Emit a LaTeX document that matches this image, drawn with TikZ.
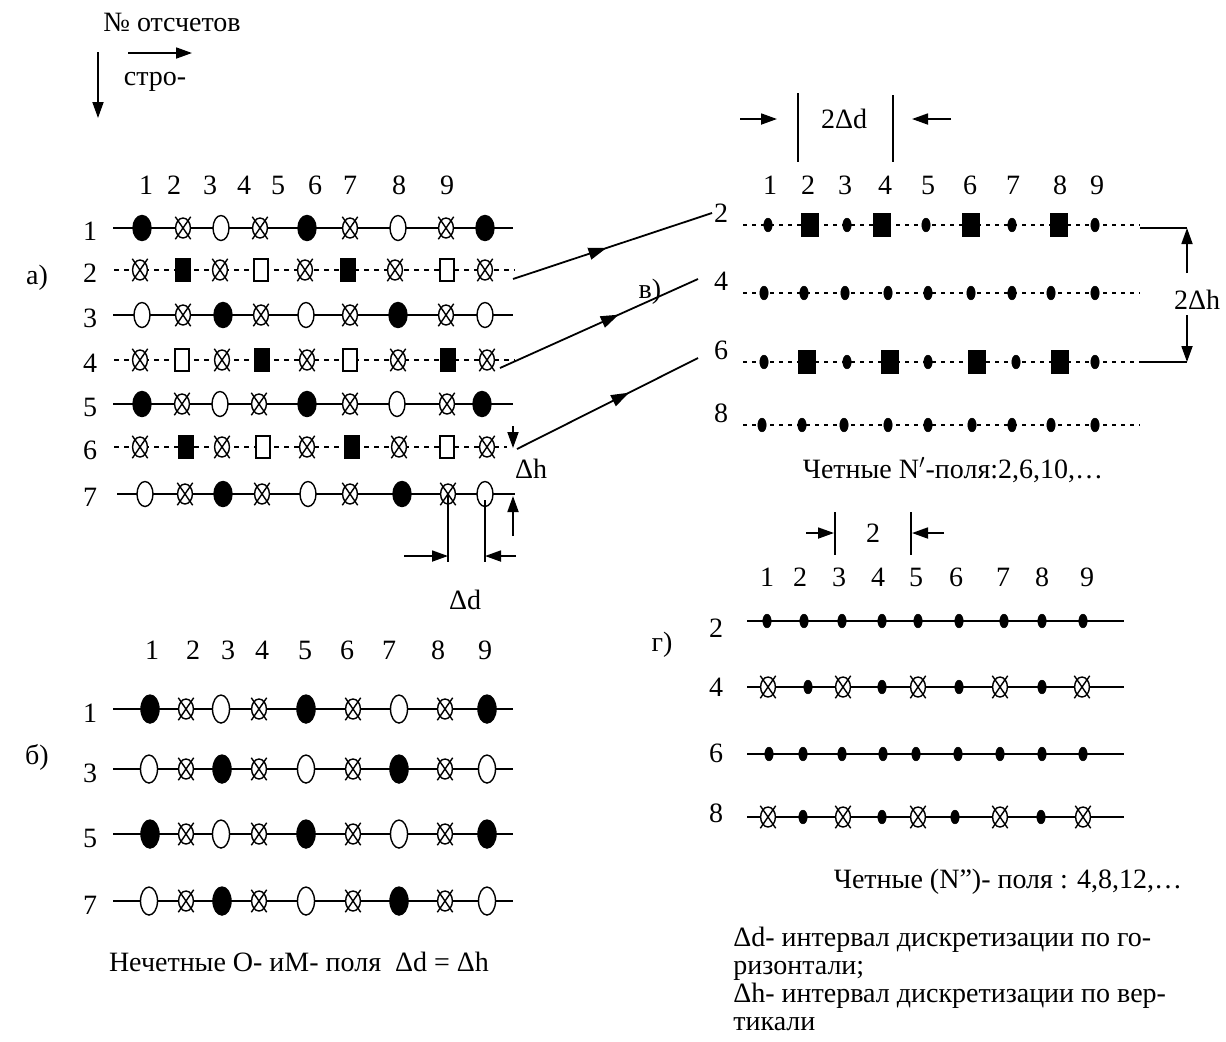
\documentclass[tikz,border=0pt]{standalone}
\usepackage{fontspec}
\setmainfont{Liberation Serif}
\usetikzlibrary{shapes.geometric,arrows.meta,decorations.markings}
\newcommand\fs{\fontsize{14}{16}\selectfont}
\newcommand\symrow[4]{%
  \foreach \s [count=\c] in {#4} {%
    \pgfmathsetmacro\px{{#3}[\c-1]}%
    \node[\s] (#1-\c) at (\px,#2) {};
  }}
\tikzset{
  sym/.style={draw, line width=0.7pt, inner sep=0pt, outer sep=0pt},
  xcross/.style={append after command={
      ([shift={(-#1*0.52,#1*0.76)}]\tikzlastnode.center) edge[line width=0.7pt] ([shift={(#1*0.52,-#1*0.76)}]\tikzlastnode.center)
      ([shift={(-#1*0.52,-#1*0.76)}]\tikzlastnode.center) edge[line width=0.7pt] ([shift={(#1*0.52,#1*0.76)}]\tikzlastnode.center)}},
  fe/.style={sym, ellipse, fill=black, minimum width=9pt, minimum height=12.5pt},
  oe/.style={sym, ellipse, fill=white, minimum width=8pt, minimum height=12.5pt},
  fb/.style={sym, ellipse, fill=black, minimum width=9pt, minimum height=14pt},
  ob/.style={sym, ellipse, fill=white, minimum width=8.5pt, minimum height=14pt},
  xe/.style={sym, ellipse, fill=white, minimum width=7.4pt, minimum height=10pt, xcross=7.4pt},
  fs/.style={sym, rectangle, fill=black, minimum width=7.5pt, minimum height=11pt},
  os/.style={sym, rectangle, fill=white, minimum width=7pt, minimum height=11pt},
  bs/.style={sym, rectangle, fill=black, minimum width=8.5pt, minimum height=11pt},
  dt/.style={sym, ellipse, fill=black, line width=0.3pt, minimum width=4.2pt, minimum height=6.8pt},
  lbl/.style={font=\fs, inner sep=0pt},
  solidrow/.style={line width=0.9pt},
  dashrow/.style={line width=0.9pt, dash pattern=on 2.5pt off 2.5pt},
  dotrow/.style={line width=0.8pt, dash pattern=on 2pt off 2.5pt},
  arr/.style={line width=0.9pt, -{Triangle[length=8pt,width=5.5pt]}},
  midarr/.style={line width=0.9pt, postaction={decorate}, decoration={markings, mark=at position #1 with {\arrow{Triangle[length=9pt,width=6pt]}}}},
  dim/.style={line width=0.8pt}
}
\begin{document}
\begin{tikzpicture}[x=0.5pt,y=-0.5pt]
\useasboundingbox (0,0) rectangle (1226,1041);

% top-left legend
\node[lbl] (numtxt) at (172,22) {№ отсчетов};
\node[lbl] (strtxt) at (155,82) {стро-};
\coordinate (hA) at (128,53); \coordinate (hB) at (192,53);
\coordinate (vA) at (98,52); \coordinate (vB) at (98,118);
\draw[arr] (hA) -- (hB);
\draw[arr] (vA) -- (vB);

% ---------- a) ----------
\node[lbl] (la) at (37,278) {а)};
\foreach \x [count=\c] in {146,174,210,244,278,315,350,399,447}
  \node[lbl] (ah\c) at (\x,185) {\c};
\foreach \r/\y/\lx/\rx/\st in {1/228/113/513/solidrow, 2/270/114/515/dashrow, 3/315/113/513/solidrow,
    4/360/114/515/dashrow, 5/404/113/513/solidrow, 6/447/114/507/dashrow, 7/494/117/515/solidrow} {
  \coordinate (aL\r) at (\lx,\y); \coordinate (aR\r) at (\rx,\y);
  \draw[\st] (aL\r) -- (aR\r);
  \node[lbl] (ar\r) at (90,\y+3) {\r};
}
\symrow{a1}{228}{142,183,221,260,307,350,398,446,485}{fe,xe,oe,xe,fe,xe,oe,xe,fe}
\symrow{a2}{270}{140,183,220,261,305,348,395,447,485}{xe,fs,xe,os,xe,fs,xe,os,xe}
\symrow{a3}{315}{142,183,223,261,306,350,398,446,485}{oe,xe,fe,xe,oe,xe,fe,xe,oe}
\symrow{a4}{360}{140,182,222,262,307,350,398,448,487}{xe,os,xe,fs,xe,os,xe,fs,xe}
\symrow{a5}{404}{142,182,220,259,307,350,397,447,482}{fe,xe,oe,xe,fe,xe,oe,xe,fe}
\symrow{a6}{447}{140,186,222,263,307,352,399,447,487}{xe,fs,xe,os,xe,fs,xe,os,xe}
\symrow{a7}{494}{145,185,223,262,308,350,402,448,485}{oe,xe,fe,xe,oe,xe,fe,xe,oe}

% delta h
\coordinate (dh1) at (513,426); \coordinate (dh2) at (513,448);
\coordinate (dh3) at (513,536); \coordinate (dh4) at (513,496);
\draw[arr] (dh1) -- (dh2);
\draw[arr] (dh3) -- (dh4);
\node[lbl] (dhtxt) at (531,469) {Δh};
% delta d
\coordinate (dd1) at (448,494); \coordinate (dd2) at (448,562);
\coordinate (dd3) at (485,500); \coordinate (dd4) at (485,562);
\draw[dim] (dd1) -- (dd2);
\draw[dim] (dd3) -- (dd4);
\coordinate (dd5) at (404,556); \coordinate (dd6) at (448,556);
\coordinate (dd7) at (516,556); \coordinate (dd8) at (485,556);
\draw[arr] (dd5) -- (dd6);
\draw[arr] (dd7) -- (dd8);
\node[lbl] (ddtxt) at (465,600) {Δd};

% ---------- b) ----------
\node[lbl] (lb) at (37,757) {б)};
\foreach \x [count=\c] in {152,193,228,262,305,347,389,438,485}
  \node[lbl] (bh\c) at (\x,650) {\c};
\foreach \r/\y in {1/709, 3/769, 5/834, 7/901} {
  \coordinate (bL\r) at (113,\y); \coordinate (bR\r) at (513,\y);
  \draw[solidrow] (bL\r) -- (bR\r);
  \node[lbl] (br\r) at (90,\y+4) {\r};
}
\symrow{b1}{709}{150,186,221,259,306,353,399,445,487}{fb,xe,ob,xe,fb,xe,ob,xe,fb}
\symrow{b3}{769}{149,186,222,259,306,353,399,445,487}{ob,xe,fb,xe,ob,xe,fb,xe,ob}
\symrow{b5}{834}{150,186,221,259,306,353,399,445,487}{fb,xe,ob,xe,fb,xe,ob,xe,fb}
\symrow{b7}{901}{149,186,222,259,306,353,399,445,487}{ob,xe,fb,xe,ob,xe,fb,xe,ob}
\node[lbl] (btxt) at (299,962) {Нечетные О- иМ- поля \ Δd = Δh};

% ---------- v) ----------
\node[lbl] (lv) at (650,292) {в)};
\foreach \x [count=\c] in {770,808,845,885,928,970,1013,1060,1097}
  \node[lbl] (vh\c) at (\x,185) {\c};
\foreach \r/\y in {2/225, 4/293, 6/362, 8/425} {
  \coordinate (vL\r) at (743,\y); \coordinate (vR\r) at (1140,\y);
  \draw[dotrow] (vL\r) -- (vR\r);
  \node[lbl] (vr\r) at (721,\y-12) {\r};
}
\symrow{v2}{225}{768,810,847,882,926,971,1012,1059,1095}{dt,bs,dt,bs,dt,bs,dt,bs,dt}
\symrow{v4}{293}{764,804,845,888,928,971,1012,1051,1095}{dt,dt,dt,dt,dt,dt,dt,dt,dt}
\symrow{v6}{362}{764,807,847,890,928,977,1016,1060,1095}{dt,bs,dt,bs,dt,bs,dt,bs,dt}
\symrow{v8}{425}{762,802,844,888,928,972,1012,1051,1095}{dt,dt,dt,dt,dt,dt,dt,dt,dt}
% 2 delta d
\coordinate (vd1) at (798,93); \coordinate (vd2) at (798,162);
\coordinate (vd3) at (893,95); \coordinate (vd4) at (893,162);
\draw[dim] (vd1) -- (vd2);
\draw[dim] (vd3) -- (vd4);
\coordinate (vd5) at (740,119); \coordinate (vd6) at (777,119);
\coordinate (vd7) at (951,119); \coordinate (vd8) at (912,119);
\draw[arr] (vd5) -- (vd6);
\draw[arr] (vd7) -- (vd8);
\node[lbl] (vdtxt) at (844,119) {2Δd};
% 2 delta h
\coordinate (vh1) at (1140,228); \coordinate (vh2) at (1187,228);
\coordinate (vh3) at (1140,362); \coordinate (vh4) at (1187,362);
\draw[dim] (vh1) -- (vh2);
\draw[dim] (vh3) -- (vh4);
\coordinate (vh5) at (1187,273); \coordinate (vh6) at (1187,315);
\draw[arr] (vh5) -- (vh2);
\draw[arr] (vh6) -- (vh4);
\node[lbl] (vhtxt) at (1197,300) {2Δh};
\node[lbl] (vtxt) at (953,470) {Четные N$'$-поля:2,6,10,…};

% connectors a) -> v)
\coordinate (k1s) at (513,279); \coordinate (k1e) at (712,213);
\coordinate (k2s) at (500,368); \coordinate (k2e) at (698,279);
\coordinate (k3s) at (517,449); \coordinate (k3e) at (698,358);
\draw[midarr=0.47] (k1s) -- (k1e);
\draw[midarr=0.6] (k2s) -- (k2e);
\draw[midarr=0.62] (k3s) -- (k3e);

% ---------- g) ----------
\node[lbl] (lg) at (662,645) {г)};
\foreach \x [count=\c] in {767,800,839,878,916,956,1003,1042,1087}
  \node[lbl] (gh\c) at (\x,577) {\c};
\foreach \r/\y/\ly in {2/621/628, 4/687/687, 6/754/753, 8/817/813} {
  \coordinate (gL\r) at (747,\y); \coordinate (gR\r) at (1124,\y);
  \draw[solidrow] (gL\r) -- (gR\r);
  \node[lbl] (gr\r) at (716,\ly) {\r};
}
\symrow{g2}{621}{767,804,842,882,918,959,1004,1042,1083}{dt,dt,dt,dt,dt,dt,dt,dt,dt}
\symrow{g4}{687}{768,808,843,882,918,959,1000,1042,1082}{xe,dt,xe,dt,xe,dt,xe,dt,xe}
\symrow{g6}{754}{769,803,842,883,916,958,1000,1042,1083}{dt,dt,dt,dt,dt,dt,dt,dt,dt}
\symrow{g8}{817}{768,803,843,882,918,955,1000,1041,1083}{xe,dt,xe,dt,xe,dt,xe,dt,xe}
% "2" dimension
\coordinate (gd1) at (835,512); \coordinate (gd2) at (835,555);
\coordinate (gd3) at (911,512); \coordinate (gd4) at (911,555);
\draw[dim] (gd1) -- (gd2);
\draw[dim] (gd3) -- (gd4);
\coordinate (gd5) at (806,533); \coordinate (gd6) at (834,533);
\coordinate (gd7) at (944,533); \coordinate (gd8) at (912,533);
\draw[arr] (gd5) -- (gd6);
\draw[arr] (gd7) -- (gd8);
\node[lbl] (gdtxt) at (873,533) {2};
\node[lbl] (gtxt) at (1008,882) {Четные (N”)- поля : 4,8,12,…};

% legend
\node[lbl, anchor=base west] (leg1) at (733,946) {Δd- интервал дискретизации по го-};
\node[lbl, anchor=base west] (leg2) at (733,974) {ризонтали;};
\node[lbl, anchor=base west] (leg3) at (733,1002) {Δh- интервал дискретизации по вер-};
\node[lbl, anchor=base west] (leg4) at (733,1030) {тикали};
\end{tikzpicture}
\end{document}
